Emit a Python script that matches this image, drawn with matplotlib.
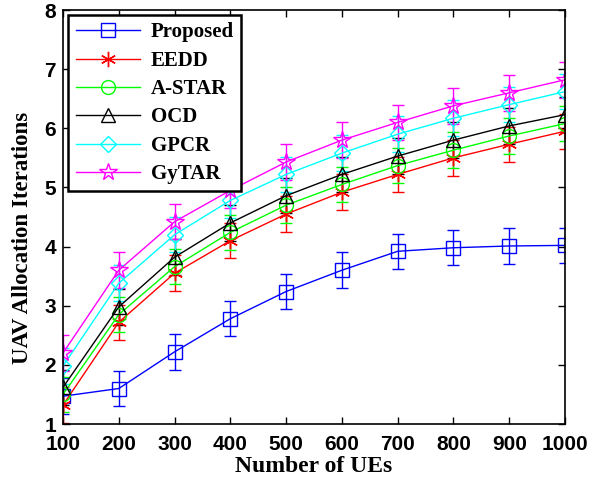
import matplotlib.pyplot as plt
import numpy as np

plt.rcParams["font.family"] = "Liberation Serif"

ues = [100, 200, 300, 400, 500, 600, 700, 800, 900, 1000]

proposed = [1.47, 1.60, 2.22, 2.78, 3.24, 3.60, 3.92, 3.98, 4.01, 4.02]
eedd = [1.32, 2.72, 3.55, 4.10, 4.55, 4.92, 5.22, 5.50, 5.73, 5.95]
astar = [1.50, 2.85, 3.66, 4.24, 4.70, 5.05, 5.37, 5.63, 5.87, 6.08]
ocd = [1.62, 2.98, 3.82, 4.40, 4.86, 5.22, 5.53, 5.80, 6.04, 6.23]
gpcr = [1.98, 3.38, 4.20, 4.78, 5.22, 5.58, 5.90, 6.17, 6.40, 6.62]
gytar = [2.20, 3.60, 4.42, 4.95, 5.43, 5.80, 6.10, 6.38, 6.60, 6.82]
err = 0.3

series = [
    ("Proposed", proposed, "b", "s", 10),
    ("EEDD", eedd, "r", (6, 2, 0), 11),
    ("A-STAR", astar, "lime", "o", 10),
    ("OCD", ocd, "k", "^", 10),
    ("GPCR", gpcr, "cyan", "D", 8.5),
    ("GyTAR", gytar, "magenta", "*", 13),
]

fig = plt.figure(figsize=(6.01, 4.79), dpi=100)
ax = fig.add_axes([63 / 601, 55 / 479, 502 / 601, 414 / 479])

handles = []
names = []
for name, vals, col, mk, ms in series:
    c = ax.errorbar(ues, vals, yerr=err, color=col, marker=mk, markersize=ms,
                    markerfacecolor="none", markeredgecolor=col, linewidth=1,
                    elinewidth=1, capsize=4.5)
    handles.append(c[0])
    names.append(name)

ax.set_xlim(100, 1000)
ax.set_ylim(1, 8)
ax.set_xticks(ues)
ax.set_yticks(range(1, 9))
ax.tick_params(direction="in", top=True, right=True, width=1, length=5)
ax.tick_params(axis="x", pad=8)
ax.tick_params(axis="y", pad=5)
for lab in ax.get_xticklabels() + ax.get_yticklabels():
    lab.set_fontfamily("Liberation Sans")
    lab.set_fontweight("bold")
    lab.set_fontsize(15)
for sp in ax.spines.values():
    sp.set_linewidth(1.2)
ax.set_xlabel("Number of UEs", fontsize=17, fontweight="bold", labelpad=1)
ax.set_ylabel("UAV Allocation Iterations", fontsize=16.5, fontweight="bold")
ax.yaxis.set_label_coords(-0.06, 0.449)

leg = ax.legend(handles, names, loc="upper left", handlelength=3.1,
                borderpad=0.35, labelspacing=0.4, handletextpad=0.5,
                fancybox=False, framealpha=1, borderaxespad=0.25,
                prop={"weight": "bold", "size": 15})
leg.get_frame().set_edgecolor("k")
leg.get_frame().set_linewidth(1.8)

fig.savefig("out.png", dpi=100)
